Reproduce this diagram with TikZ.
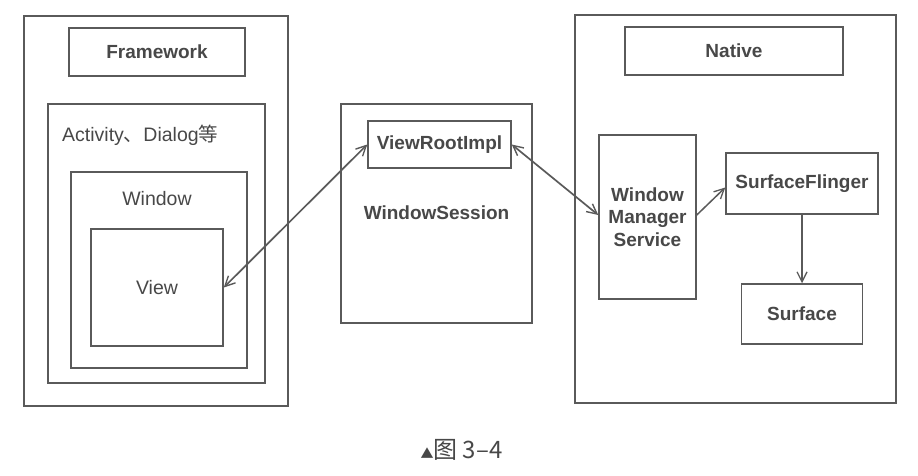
\documentclass[tikz,border=0pt]{standalone}
\usepackage{fontspec}
\setmainfont{Liberation Sans}
\newfontfamily\cjk{Noto Sans CJK SC}
\usetikzlibrary{arrows.meta}
\definecolor{linec}{RGB}{90,90,90}
\definecolor{textc}{RGB}{72,72,72}
\begin{document}
\begin{tikzpicture}[x=1pt,y=-1pt,
  box/.style={draw=linec,line width=1.5pt,rectangle,inner sep=0pt,text=textc,align=center},
  btxt/.style={text=textc,font=\fontsize{19}{22.5}\selectfont\bfseries},
  rtxt/.style={text=textc,font=\fontsize{19.5}{22.5}\selectfont},
  tip/.style={Straight Barb[length=10pt,width=10pt,line width=1.4pt]},
  conn/.style={draw=linec,line width=1.7pt,{Straight Barb[length=10pt,width=10pt,line width=1.4pt]}-{Straight Barb[length=10pt,width=10pt,line width=1.4pt]}},
  conn1/.style={draw=linec,line width=1.5pt,-{Straight Barb[length=10pt,width=10pt,line width=1.3pt]}}]
\useasboundingbox[fill=white] (0,0) rectangle (918,476);
% left column
\node[box,minimum width=264pt,minimum height=390pt] (fwouter) at (156,211) {};
\node[box,btxt,minimum width=176pt,minimum height=48pt] (fwlabel) at (157,52) {Framework};
\node[box,minimum width=217pt,minimum height=279pt] (activity) at (156.5,243.5) {};
\node[rtxt,anchor=west,inner sep=0pt] (actlabel) at (62,135) {Activity{\cjk 、}Dialog{\cjk 等}};
\node[box,minimum width=176pt,minimum height=196pt] (window) at (159,270) {};
\node[rtxt,inner sep=0pt] (winlabel) at (157,199) {Window};
\node[box,rtxt,minimum width=132pt,minimum height=117pt] (view) at (157,287.5) {View};
% middle
\node[box,minimum width=191pt,minimum height=219pt] (session) at (436.5,213.5) {};
\node[btxt,inner sep=0pt] (seslabel) at (436.5,213) {WindowSession};
\node[box,btxt,minimum width=143pt,minimum height=47pt] (vri) at (439.5,144.5) {ViewRootImpl};
% right column
\node[box,minimum width=321pt,minimum height=388pt] (native) at (735.5,209) {};
\node[box,btxt,minimum width=218pt,minimum height=48pt] (natlabel) at (734,51) {Native};
\node[box,btxt,minimum width=97pt,minimum height=164pt] (wms) at (647.5,217) {Window\\Manager\\Service};
\node[box,btxt,minimum width=152pt,minimum height=61pt] (sf) at (802,183.5) {SurfaceFlinger};
\node[box,btxt,minimum width=121pt,minimum height=60pt] (surface) at (802,314) {Surface};
% connectors
\draw[conn] (view.east) -- (vri.west);
\draw[conn] (vri.east) -- ([yshift=2pt]wms.west);
\draw[conn1] ([yshift=2pt]wms.east) -- ([yshift=-4pt]sf.west);
\draw[conn1] (sf.south) -- (surface.north);
% caption
\node[text=textc,inner sep=0pt,font=\fontsize{24}{26}\selectfont\cjk] (caption) at (461.5,450) {{\fontsize{13}{13}\selectfont ▲}图 3–4};
\end{tikzpicture}
\end{document}
